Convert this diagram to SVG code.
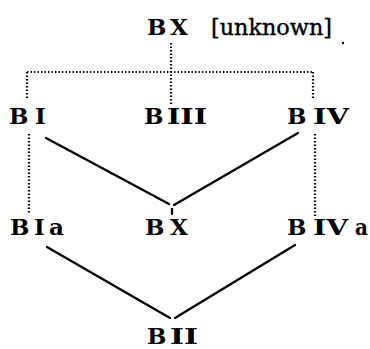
<svg xmlns="http://www.w3.org/2000/svg" width="370" height="349" viewBox="0 0 370 349">
<style>
  .lbl { font-family: "DejaVu Serif", "Liberation Serif", serif; font-size: 23px; font-weight: bold; fill: #000; }
  .reg { font-weight: normal; stroke: #000; stroke-width: 0.4; }
  .solid { stroke: #000; stroke-width: 2.3; fill: none; stroke-linecap: round; }
  .dot { stroke: #000; stroke-width: 2.2; fill: none; stroke-dasharray: 1.4 2.1; }
</style>
<rect width="370" height="349" fill="#fff"/>
<g id="connectors">
  <path class="dot" d="M171,43 V106"/>
  <path class="dot" d="M27,72 H313"/>
  <path class="dot" d="M27,72 V98"/>
  <path class="dot" d="M313,72 V100"/>
  <path class="dot" d="M29,134 V214"/>
  <path class="dot" d="M315,134 V217"/>
  <path class="solid" d="M46,138 L169,204"/>
  <path class="solid" d="M298,133 L174,205"/>
  <path class="solid" d="M172,209 V214"/>
  <path class="solid" d="M47,247 L170,318"/>
  <path class="solid" d="M295,245 L175,318"/>
</g>
<g id="node-BX-unknown">
  <text class="lbl" y="35"><tspan x="147">B</tspan><tspan x="170">X</tspan><tspan x="211" class="reg" textLength="121" lengthAdjust="spacingAndGlyphs">[unknown]</tspan></text>
</g>
<g id="node-BI"><text class="lbl" y="124"><tspan x="9">B</tspan><tspan x="35">I</tspan></text></g>
<g id="node-BIII"><text class="lbl" y="124"><tspan x="144">B</tspan><tspan x="167" textLength="40" lengthAdjust="spacingAndGlyphs">III</tspan></text></g>
<g id="node-BIV"><text class="lbl" y="124"><tspan x="287">B</tspan><tspan x="313" textLength="36" lengthAdjust="spacingAndGlyphs">IV</tspan></text></g>
<g id="node-BIa"><text class="lbl" y="235"><tspan x="10">B</tspan><tspan x="34">I</tspan><tspan x="49">a</tspan></text></g>
<g id="node-BX"><text class="lbl" y="235"><tspan x="145">B</tspan><tspan x="170">X</tspan></text></g>
<g id="node-BIVa"><text class="lbl" y="235"><tspan x="287">B</tspan><tspan x="313" textLength="35" lengthAdjust="spacingAndGlyphs">IV</tspan><tspan x="355" textLength="13" lengthAdjust="spacingAndGlyphs">a</tspan></text></g>
<g id="node-BII"><text class="lbl" y="344"><tspan x="147">B</tspan><tspan x="170" textLength="28" lengthAdjust="spacingAndGlyphs">II</tspan></text></g>
<circle cx="343" cy="43" r="1.2" fill="#000"/>
</svg>
